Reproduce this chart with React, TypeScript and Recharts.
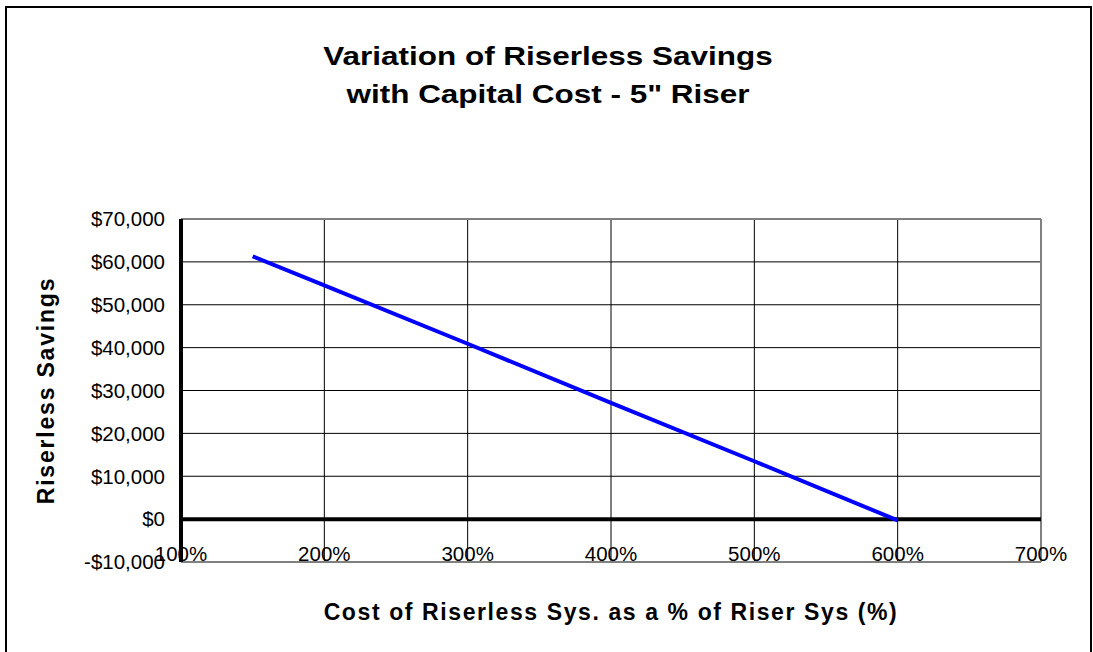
import { LineChart, Line, XAxis, YAxis, CartesianGrid, ReferenceLine } from 'recharts';

// cost of riserless system as % of riser system
const costPct = [150, 200, 300, 400, 500, 600];
// riserless savings ($)
const savings = [61300, 54500, 40900, 27100, 13500, -300];

const xTicks = [100, 200, 300, 400, 500, 600, 700];
const yTicks = [-10000, 0, 10000, 20000, 30000, 40000, 50000, 60000, 70000];

const titleLines = ['Variation of Riserless Savings', 'with Capital Cost - 5" Riser'];
const xTitle = 'Cost of Riserless Sys. as a % of Riser Sys (%)';
const yTitle = 'Riserless Savings';

const data = costPct.map((x, i) => ({ x, y: savings[i] }));

const FONT = '"Liberation Sans", Arial, sans-serif';

const fmtMoney = (v: number) => (v < 0 ? '-$' : '$') + Math.abs(v).toLocaleString('en-US');

function XTick({ x, y, payload }: any) {
  return (
    <text x={x} y={y} dy={-1} textAnchor="middle" fontSize={20.5} fontFamily={FONT} fill="#000">
      {payload.value}%
    </text>
  );
}

function XTitle({ viewBox }: any) {
  return (
    <text
      x={viewBox.x + viewBox.width / 2}
      y={viewBox.y + viewBox.height + 28}
      textAnchor="middle"
      fontSize={23}
      fontWeight="bold"
      letterSpacing={1.6}
      fontFamily={FONT}
      fill="#000"
    >
      {xTitle}
    </text>
  );
}

function YTitle({ viewBox }: any) {
  const cx = viewBox.x + 46;
  const cy = viewBox.y + viewBox.height / 2;
  return (
    <text
      x={cx}
      y={cy}
      transform={`rotate(-90, ${cx}, ${cy})`}
      textAnchor="middle"
      dominantBaseline="central"
      fontSize={23}
      fontWeight="bold"
      letterSpacing={1.8}
      fontFamily={FONT}
      fill="#000"
    >
      {yTitle}
    </text>
  );
}

export default function App() {
  return (
    <div style={{ position: 'absolute', left: 0, top: 0, width: 1093, height: 652, overflow: 'hidden', background: '#fff', fontFamily: FONT }}>
      <div style={{ position: 'absolute', left: 5, top: 6, width: 1083, height: 700, border: '2px solid #000' }} />
      <div style={{ position: 'absolute', left: 0, top: 37, width: 1096, textAlign: 'center', fontSize: 26, fontWeight: 'bold', lineHeight: '38px', transform: 'scaleX(1.21)', transformOrigin: '548px 0' }}>
        {titleLines.map((t) => (
          <div key={t}>{t}</div>
        ))}
      </div>
      <div style={{ position: 'absolute', left: 0, top: 0 }}>
        <LineChart width={1093} height={652} data={data} margin={{ top: 219, right: 52, bottom: 60, left: 0 }}>
          <CartesianGrid stroke="#000" strokeWidth={1} />
          <XAxis
            type="number"
            dataKey="x"
            domain={[100, 700]}
            ticks={xTicks}
            interval={0}
            height={30}
            axisLine={false}
            tickLine={false}
            tickSize={0}
            tickMargin={0}
            tick={<XTick />}
            label={<XTitle />}
          />
          <YAxis
            type="number"
            domain={[-10000, 70000]}
            ticks={yTicks}
            interval={0}
            width={181}
            axisLine={{ stroke: '#000', strokeWidth: 4 }}
            tickLine={false}
            tickSize={0}
            tickMargin={16}
            tickFormatter={fmtMoney}
            tick={{ fontSize: 20.5, fill: '#000', fontFamily: FONT }}
            label={<YTitle />}
          />
          <ReferenceLine y={70000} stroke="#808080" strokeWidth={2} />
          <ReferenceLine y={-10000} stroke="#808080" strokeWidth={2} />
          <ReferenceLine x={700} stroke="#808080" strokeWidth={2} />
          <ReferenceLine y={0} stroke="#000" strokeWidth={4} />
          <Line
            type="linear"
            dataKey="y"
            stroke="#0000ff"
            strokeWidth={4}
            dot={false}
            isAnimationActive={false}
          />
        </LineChart>
      </div>
    </div>
  );
}
